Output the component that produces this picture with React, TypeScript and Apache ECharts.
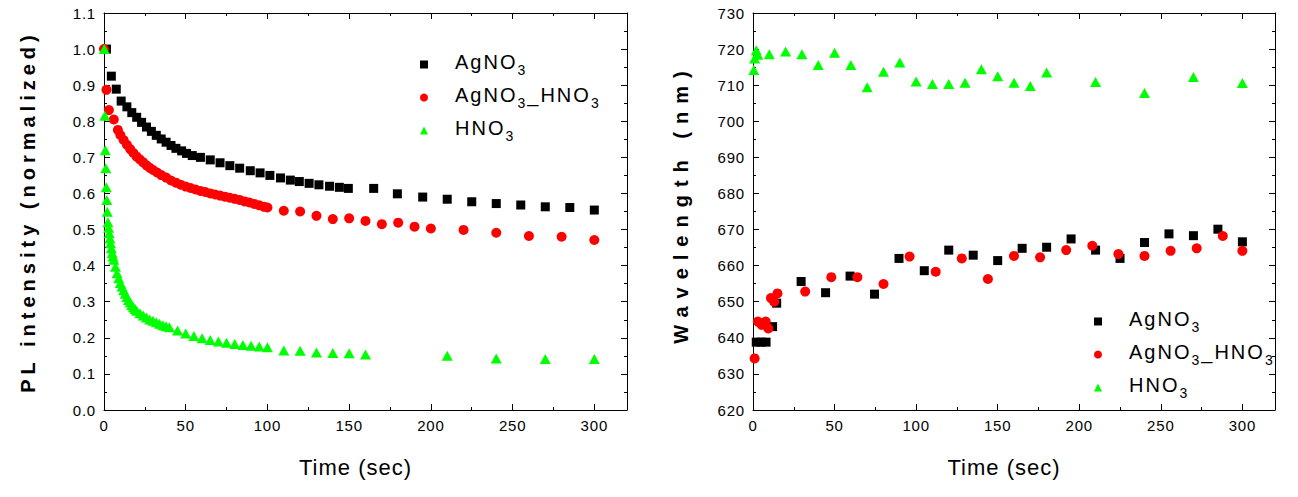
import React, { useEffect, useRef } from 'react';
import * as echarts from 'echarts';

const FONT = 'Arial, "Liberation Sans", Helvetica, sans-serif';

// ---- Left panel: normalized PL intensity vs time (sec) ----
const plAgNO3Time = [1.5, 4.5, 7.5, 10.5, 14, 17, 20, 23, 26, 29, 32, 35, 38, 41, 44, 47.5, 50.5, 54, 59, 65, 71, 77, 83, 89.5, 95.5, 101.5, 108, 114, 119.5, 125.5, 131.5, 138, 144, 149.5, 165, 179.5, 195, 210, 225, 240, 255, 270, 285, 300];
const plAgNO3Value = [1.0, 0.925, 0.889, 0.856, 0.84, 0.824, 0.811, 0.797, 0.784, 0.772, 0.761, 0.751, 0.742, 0.733, 0.725, 0.718, 0.711, 0.705, 0.7, 0.693, 0.685, 0.677, 0.67, 0.663, 0.657, 0.65, 0.643, 0.637, 0.633, 0.628, 0.624, 0.62, 0.617, 0.614, 0.614, 0.599, 0.59, 0.584, 0.577, 0.572, 0.568, 0.563, 0.561, 0.554];

const plAgNO3HNO3Time = [0, 1.5, 3, 6, 8.5, 10, 12, 14, 16, 18, 20, 22, 24, 26, 28, 30, 32.5, 35, 38, 41, 44, 47, 50, 53, 56, 59, 62, 65, 68, 71, 74, 77, 80, 83, 86, 89, 92, 95, 98, 100, 110, 120, 130, 140, 150, 160, 170, 180, 190, 200, 220, 240, 260, 280, 300];
const plAgNO3HNO3Value = [1.0, 0.887, 0.831, 0.805, 0.776, 0.762, 0.748, 0.735, 0.723, 0.712, 0.702, 0.694, 0.686, 0.678, 0.671, 0.665, 0.658, 0.651, 0.644, 0.636, 0.63, 0.624, 0.619, 0.615, 0.611, 0.607, 0.604, 0.6, 0.597, 0.594, 0.591, 0.588, 0.585, 0.582, 0.578, 0.575, 0.571, 0.567, 0.563, 0.561, 0.552, 0.55, 0.538, 0.529, 0.531, 0.524, 0.515, 0.519, 0.508, 0.503, 0.499, 0.491, 0.482, 0.48, 0.471];

const plHNO3Time = [0.2, 0.5, 0.8, 1.1, 1.4, 1.7, 2, 2.4, 2.8, 3.2, 3.6, 4, 4.5, 5, 5.5, 6, 7, 8, 9, 10, 11, 12, 13, 14, 15, 16, 17, 18, 19, 20, 22, 24, 26, 28, 30, 32, 34, 36, 38, 40, 45, 50, 55, 60, 65, 70, 75, 80, 85, 90, 95, 100, 110, 120, 130, 140, 150, 160, 210, 240, 270, 300];
const plHNO3Value = [1.0, 0.815, 0.72, 0.67, 0.617, 0.582, 0.549, 0.52, 0.505, 0.49, 0.475, 0.462, 0.448, 0.435, 0.425, 0.416, 0.397, 0.379, 0.365, 0.352, 0.342, 0.332, 0.322, 0.313, 0.305, 0.298, 0.291, 0.285, 0.28, 0.275, 0.268, 0.262, 0.256, 0.251, 0.247, 0.243, 0.239, 0.235, 0.232, 0.229, 0.22, 0.212, 0.205, 0.199, 0.194, 0.19, 0.186, 0.183, 0.18, 0.178, 0.176, 0.174, 0.165, 0.164, 0.159, 0.158, 0.157, 0.154, 0.15, 0.143, 0.141, 0.141];

// ---- Right panel: emission wavelength (nm) vs time (sec) ----
const wlAgNO3Time = [2, 5, 8, 12, 14.5, 29.5, 44.5, 59.5, 74.5, 89.5, 105, 120, 135, 150, 165, 180, 195, 210, 225, 240, 255, 270, 285, 300];
const wlAgNO3Value = [638.8, 638.8, 638.8, 643.1, 649.6, 655.6, 652.5, 657.1, 652.1, 662.0, 658.6, 664.3, 662.9, 661.4, 664.8, 665.1, 667.4, 664.3, 662.0, 666.4, 668.8, 668.3, 670.1, 666.6];

const wlAgNO3HNO3Time = [1, 3, 5.3, 7.8, 9.4, 11, 13, 15, 32, 48, 64, 80, 96, 112, 128, 144, 160, 176, 192, 208, 224, 240, 256, 272, 288, 300];
const wlAgNO3HNO3Value = [634.3, 644.5, 643.6, 644.5, 642.6, 651.0, 650.0, 652.3, 652.8, 656.8, 656.8, 654.9, 662.5, 658.3, 662.0, 656.3, 662.7, 662.3, 664.3, 665.5, 663.2, 662.7, 664.1, 664.8, 668.2, 664.1];

const wlHNO3Time = [0.5, 1, 2, 3, 10, 20, 30, 40, 50, 60, 70, 80, 90, 100, 110, 120, 130, 140, 150, 160, 170, 180, 210, 240, 270, 300];
const wlHNO3Value = [714.2, 717.4, 719.7, 718.4, 718.6, 719.3, 718.6, 715.6, 719.0, 715.6, 709.4, 713.7, 716.3, 711.0, 710.3, 710.3, 710.7, 714.4, 712.5, 710.7, 709.8, 713.5, 710.9, 707.8, 712.3, 710.6];

const seriesNames = ['AgNO3', 'AgNO3_HNO3', 'HNO3'];
const legendRich: Record<string, string> = {
  AgNO3: '{g| }{a|AgNO}{s|3}',
  AgNO3_HNO3: '{g| }{a|AgNO}{s|3}{u|_HNO}{s|3}',
  HNO3: '{g| }{h|HNO}{s|3}',
};

const timeTicks = { min: 0, max: 320, interval: 50 };
const plTicks = { min: 0, max: 1.1, interval: 0.1 };
const wlTicks = { min: 620, max: 730, interval: 10 };

const zip = (t: number[], v: number[]) => t.map((x, i) => [x, v[i]]);

const black = '#000000';
const red = '#ff0000';
const green = '#00ff00';

const LEGEND_SPACING = 2;

function frameAxis(gridIndex: number, position: string, ticks: any, withLabels: boolean, extra: any = {}) {
  return {
    type: 'value',
    gridIndex,
    position,
    ...ticks,
    axisLine: { show: true, onZero: false, lineStyle: { color: '#000', width: 1 } },
    axisTick: { show: true, inside: true, length: 6, lineStyle: { color: '#000', width: 1 } },
    minorTick: { show: true, splitNumber: 2, length: 3, lineStyle: { color: '#000', width: 1 } },
    splitLine: { show: false },
    axisLabel: withLabels
      ? { show: true, fontFamily: FONT, fontSize: 15, color: '#000', margin: 8, showMaxLabel: ticks.max % ticks.interval === 0 }
      : { show: false },
    ...extra,
  };
}

const titleStyle = (bold: boolean) => ({
  fontFamily: FONT,
  fontSize: bold ? 20 : 22,
  fontWeight: bold ? 'bold' : 'normal',
  color: '#000',
});

function legendFor(left: number, top: number) {
  const tok = (w: number) => ({
    fontSize: 20, fontFamily: FONT, color: '#000', verticalAlign: 'top', lineHeight: 25, width: w,
  });
  return {
    data: seriesNames,
    left,
    top,
    orient: 'vertical',
    itemWidth: 8,
    itemHeight: 8,
    itemGap: 8,
    selectedMode: false,
    formatter: (name: string) => legendRich[name],
    textStyle: {
      fontFamily: FONT,
      color: '#000',
      rich: {
        g: { width: 22, fontSize: 20, fontFamily: FONT },
        a: tok(54.5 + 4 * LEGEND_SPACING),
        u: tok(55.6 + 4 * LEGEND_SPACING),
        h: tok(44.4 + 3 * LEGEND_SPACING),
        s: { fontSize: 14, fontFamily: FONT, color: '#000', verticalAlign: 'top', padding: [11, 0, 0, 0], width: 7.8 + LEGEND_SPACING },
      },
    },
  };
}

function scatter(name: string, x: number, y: number, data: number[][]) {
  const style =
    name === 'AgNO3'
      ? { symbol: 'rect', symbolSize: 9, color: black }
      : name === 'AgNO3_HNO3'
      ? { symbol: 'circle', symbolSize: 10, color: red }
      : { symbol: 'triangle', symbolSize: [11, 10], color: green };
  return {
    name,
    type: 'scatter',
    xAxisIndex: x,
    yAxisIndex: y,
    symbol: style.symbol,
    symbolSize: style.symbolSize,
    itemStyle: { color: style.color, opacity: 1 },
    emphasis: { disabled: true },
    clip: false,
    data,
  };
}

// letter spacing of the Origin-style labels (px)
const spacing: Record<string, number> = {
  'PL intensity (normalized)': 5,
  'Wavelength (nm)': 8,
  'Time (sec)': 1,
  AgNO: LEGEND_SPACING,
  _HNO: LEGEND_SPACING,
  HNO: LEGEND_SPACING,
};

export default function App() {
  const ref = useRef<HTMLDivElement>(null);

  useEffect(() => {
    if (!ref.current) return;
    const chart = echarts.init(ref.current, undefined, { renderer: 'svg' });

    const applySpacing = () => {
      const root = ref.current;
      if (!root) return;
      root.querySelectorAll('text').forEach((t) => {
        const s = (t.textContent || '').trim();
        let ls: number | null = null;
        if (spacing[s] !== undefined) ls = spacing[s];
        else if (/^\d+(\.\d+)?$/.test(s) && s !== '3') ls = 0.8;
        if (ls !== null) t.setAttribute('letter-spacing', String(ls));
      });
    };

    chart.on('finished', applySpacing);

    const xName = {
      name: 'Time (sec)',
      nameLocation: 'middle',
      nameGap: 46,
      nameTextStyle: { ...titleStyle(false), padding: [0, 20, 0, 0] },
    };

    chart.setOption({
      animation: false,
      backgroundColor: '#ffffff',
      grid: [
        { left: 104, top: 13, width: 523, height: 397 },
        { left: 753, top: 13, width: 522, height: 397 },
      ],
      xAxis: [
        frameAxis(0, 'bottom', timeTicks, true, xName),
        frameAxis(0, 'top', timeTicks, false),
        frameAxis(1, 'bottom', timeTicks, true, xName),
        frameAxis(1, 'top', timeTicks, false),
      ],
      yAxis: [
        frameAxis(0, 'left', plTicks, true, {
          name: 'PL intensity (normalized)', nameLocation: 'middle', nameGap: 66, nameTextStyle: titleStyle(true),
          axisLabel: { show: true, fontFamily: FONT, fontSize: 15, color: '#000', margin: 8, formatter: (v: number) => v.toFixed(1) },
        }),
        frameAxis(0, 'right', plTicks, false),
        frameAxis(1, 'left', wlTicks, true, {
          name: 'Wavelength (nm)', nameLocation: 'middle', nameGap: 62,
          nameTextStyle: { ...titleStyle(true), padding: [0, 0, 0, 16] },
        }),
        frameAxis(1, 'right', wlTicks, false),
      ],
      legend: [legendFor(415, 47), legendFor(1089, 304)],
      series: [
        scatter('AgNO3', 0, 0, zip(plAgNO3Time, plAgNO3Value)),
        scatter('AgNO3_HNO3', 0, 0, zip(plAgNO3HNO3Time, plAgNO3HNO3Value)),
        scatter('HNO3', 0, 0, zip(plHNO3Time, plHNO3Value)),
        scatter('AgNO3', 2, 2, zip(wlAgNO3Time, wlAgNO3Value)),
        scatter('AgNO3_HNO3', 2, 2, zip(wlAgNO3HNO3Time, wlAgNO3HNO3Value)),
        scatter('HNO3', 2, 2, zip(wlHNO3Time, wlHNO3Value)),
      ],
    });
    applySpacing();

    return () => {
      chart.dispose();
    };
  }, []);

  return (
    <div
      ref={ref}
      style={{ position: 'absolute', left: 0, top: 0, width: 1298, height: 497, background: '#fff' }}
    />
  );
}
